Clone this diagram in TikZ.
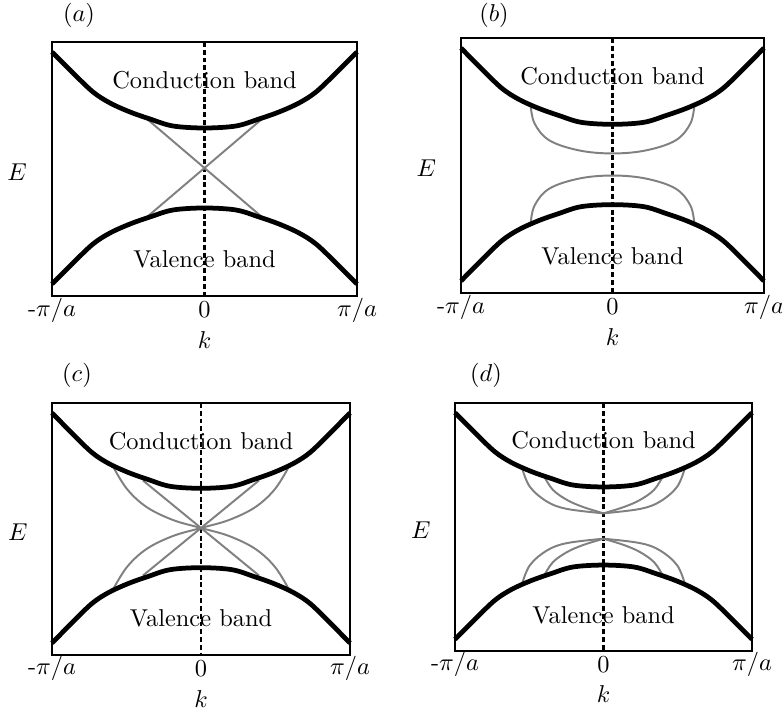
\documentclass[tikz,border=0pt]{standalone}
\usetikzlibrary{calc}
\tikzset{
  boxline/.style={line width=0.85pt},
  band/.style={line width=1.95pt, line join=round},
  gline/.style={line width=0.8pt, gray},
  zeroline/.style={line width=0.9pt, dash pattern=on 2pt off 1.2pt},
  bandlabel/.style={inner sep=0pt, font=\normalsize},
  plain/.style={inner sep=0pt}
}
\newcommand\bandpanel[6]{%
  \begin{scope}[shift={(#2,#3)}, xscale=#4/305, yscale=#5/254]
    \draw[boxline] (0,0) rectangle (305,254);
    \coordinate (#1top) at (152.5,0);
    \coordinate (#1bot) at (152.5,254);
    \draw[zeroline] (#1top) -- (#1bot);
    #6
    \draw[band] plot[smooth, tension=0.55] coordinates {(0,10) (21,31) (41,50) (58,61) (78,70) (98,77) (121,84) (152.5,86) (184,84) (207,77) (227,70) (247,61) (264,50) (284,31) (305,10)};
    \draw[band] plot[smooth, tension=0.55] coordinates {(0,242) (21,221) (41,202) (58,191) (78,182) (98,175) (121,168) (152.5,166) (184,168) (207,175) (227,182) (247,191) (264,202) (284,221) (305,242)};
    \node[bandlabel] (#1cb) at (152.5,38) {Conduction band};
    \node[bandlabel] (#1vb) at (152.5,217) {Valence band};
    \node[plain] (#1kl) at (0,268) {-$\pi/a$};
    \node[plain] (#1k0) at (152.5,268) {0};
    \node[plain] (#1kr) at (305,268) {$\pi/a$};
    \node[plain] (#1k) at (152.5,298) {$k$};
    \node[plain] (#1E) at (-35,130) {$E$};
  \end{scope}}
\begin{document}
\begin{tikzpicture}[x=0.41pt, y=-0.41pt]
\useasboundingbox (0,0) rectangle (782,711);
% (a)
\bandpanel{a}{52}{42}{305}{254}{%
  \draw[gline] (95,77) -- (210,175);
  \draw[gline] (95,175) -- (210,77);
}
\node[plain] (la) at (79,15) {$(a)$};
% (b)
\bandpanel{b}{461}{38}{303}{255}{%
  \draw[gline] plot[smooth, tension=0.6] coordinates {(70,66) (74,85) (89,102) (119,112) (152.5,115) (186,112) (216,102) (231,85) (235,66)};
  \draw[gline] plot[smooth, tension=0.6] coordinates {(70,186) (74,167) (89,150) (119,140) (152.5,137) (186,140) (216,150) (231,167) (235,186)};
}
\node[plain] (lb) at (494,15) {$(b)$};
% (c)
\bandpanel{c}{52}{403}{298}{252}{%
  \draw[gline] plot[smooth, tension=0.6] coordinates {(63,65) (77,87) (97,105) (124,118) (152.5,126) (181,134) (208,147) (228,165) (242,187)};
  \draw[gline] plot[smooth, tension=0.6] coordinates {(242,65) (228,87) (208,105) (181,118) (152.5,126) (124,134) (97,147) (77,165) (63,187)};
  \draw[gline] (93,78) -- (212,174);
  \draw[gline] (93,174) -- (212,78);
}
\node[plain] (lc) at (77,375) {$(c)$};
% (d)
\bandpanel{d}{455}{403}{297}{248}{%
  \draw[gline] plot[smooth, tension=0.6] coordinates {(69,67) (77,86) (94.5,101) (115,108.5) (152.5,113)};
  \draw[gline] plot[smooth, tension=0.6] coordinates {(152.5,113) (190,108.5) (210.5,101) (228,86) (236,67)};
  \draw[gline] plot[smooth, tension=0.6] coordinates {(92,76) (100.6,89) (115,99.3) (131.5,106.5) (152.5,113)};
  \draw[gline] plot[smooth, tension=0.6] coordinates {(152.5,113) (173.5,106.5) (190,99.3) (204.4,89) (213,76)};
  \draw[gline] plot[smooth, tension=0.6] coordinates {(69,185) (77,166) (94.5,151) (115,143.5) (152.5,139)};
  \draw[gline] plot[smooth, tension=0.6] coordinates {(152.5,139) (190,143.5) (210.5,151) (228,166) (236,185)};
  \draw[gline] plot[smooth, tension=0.6] coordinates {(92,176) (100.6,163) (115,152.7) (131.5,145.5) (152.5,139)};
  \draw[gline] plot[smooth, tension=0.6] coordinates {(152.5,139) (173.5,145.5) (190,152.7) (204.4,163) (213,176)};
}
\node[plain] (ld) at (486,375) {$(d)$};
\end{tikzpicture}
\end{document}
